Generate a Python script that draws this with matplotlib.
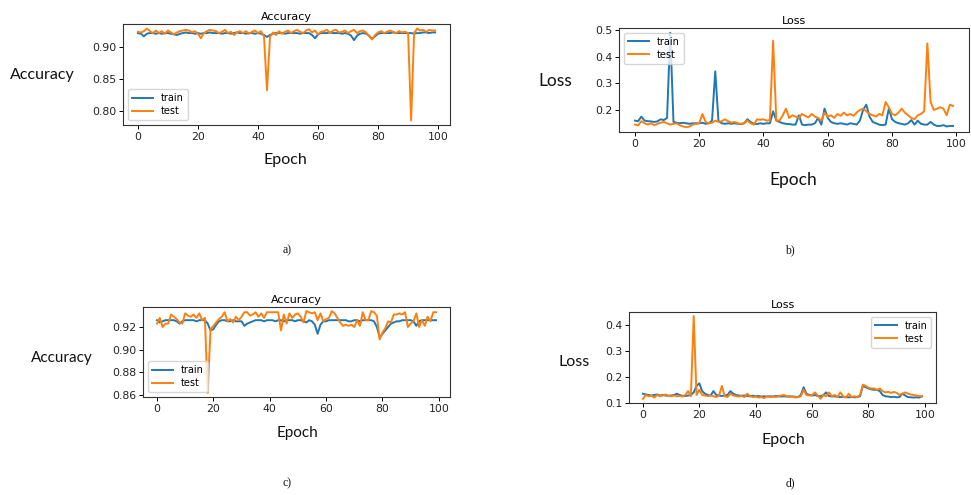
import numpy as np
import matplotlib
matplotlib.use("Agg")
import matplotlib.pyplot as plt

epochs = np.arange(100)

# a) accuracy, first run
acc_train_a = [0.921, 0.920, 0.916, 0.920, 0.921, 0.921, 0.920, 0.921, 0.920, 0.921,
               0.921, 0.920, 0.919, 0.918, 0.920, 0.921, 0.922, 0.921, 0.921, 0.920,
               0.921, 0.920, 0.921, 0.921, 0.922, 0.921, 0.921, 0.921, 0.920, 0.921,
               0.921, 0.920, 0.921, 0.922, 0.921, 0.921, 0.920, 0.921, 0.921, 0.920,
               0.921, 0.920, 0.918, 0.915, 0.918, 0.920, 0.921, 0.921, 0.921, 0.920,
               0.921, 0.921, 0.921, 0.921, 0.920, 0.921, 0.921, 0.921, 0.918, 0.913,
               0.919, 0.921, 0.921, 0.921, 0.922, 0.921, 0.921, 0.921, 0.920, 0.921,
               0.920, 0.917, 0.910, 0.917, 0.920, 0.921, 0.920, 0.917, 0.912, 0.916,
               0.920, 0.921, 0.921, 0.921, 0.921, 0.922, 0.921, 0.921, 0.921, 0.921,
               0.921, 0.921, 0.920, 0.921, 0.921, 0.922, 0.922, 0.921, 0.922, 0.922]
acc_test_a = [0.923, 0.922, 0.924, 0.928, 0.924, 0.921, 0.925, 0.921, 0.924, 0.920,
              0.925, 0.922, 0.919, 0.922, 0.924, 0.925, 0.926, 0.925, 0.922, 0.924,
              0.920, 0.913, 0.921, 0.924, 0.926, 0.925, 0.924, 0.921, 0.923, 0.926,
              0.921, 0.923, 0.918, 0.922, 0.924, 0.921, 0.924, 0.920, 0.923, 0.925,
              0.921, 0.924, 0.916, 0.832, 0.915, 0.922, 0.918, 0.924, 0.920, 0.923,
              0.925, 0.921, 0.924, 0.926, 0.923, 0.921, 0.925, 0.927, 0.922, 0.925,
              0.919, 0.923, 0.924, 0.926, 0.921, 0.925, 0.926, 0.922, 0.923, 0.925,
              0.921, 0.924, 0.926, 0.921, 0.924, 0.925, 0.922, 0.916, 0.911, 0.918,
              0.922, 0.924, 0.921, 0.923, 0.925, 0.923, 0.921, 0.924, 0.922, 0.923,
              0.921, 0.785, 0.921, 0.928, 0.925, 0.926, 0.923, 0.926, 0.925, 0.925]

# b) loss, first run
loss_train_b = [0.160, 0.158, 0.175, 0.160, 0.158, 0.157, 0.155, 0.157, 0.165, 0.162,
                0.170, 0.490, 0.155, 0.152, 0.150, 0.152, 0.150, 0.148, 0.150, 0.150,
                0.150, 0.152, 0.148, 0.150, 0.160, 0.345, 0.158, 0.150, 0.148, 0.150,
                0.148, 0.150, 0.148, 0.147, 0.150, 0.165, 0.155, 0.148, 0.147, 0.150,
                0.148, 0.150, 0.150, 0.195, 0.160, 0.155, 0.150, 0.148, 0.147, 0.145,
                0.145, 0.180, 0.145, 0.143, 0.145, 0.145, 0.150, 0.170, 0.145, 0.205,
                0.170, 0.155, 0.150, 0.148, 0.150, 0.148, 0.145, 0.150, 0.148, 0.145,
                0.160, 0.200, 0.220, 0.175, 0.155, 0.150, 0.145, 0.143, 0.145, 0.205,
                0.165, 0.155, 0.150, 0.148, 0.145, 0.150, 0.162, 0.145, 0.160, 0.148,
                0.145, 0.145, 0.155, 0.145, 0.140, 0.140, 0.143, 0.138, 0.140, 0.140]
loss_test_b = [0.145, 0.142, 0.158, 0.150, 0.145, 0.150, 0.143, 0.148, 0.152, 0.155,
               0.150, 0.145, 0.148, 0.150, 0.142, 0.138, 0.135, 0.138, 0.145, 0.148,
               0.150, 0.185, 0.155, 0.150, 0.152, 0.160, 0.155, 0.158, 0.165, 0.158,
               0.152, 0.155, 0.150, 0.148, 0.150, 0.160, 0.150, 0.145, 0.165, 0.163,
               0.165, 0.160, 0.162, 0.460, 0.160, 0.160, 0.180, 0.205, 0.170, 0.180,
               0.175, 0.170, 0.185, 0.178, 0.172, 0.185, 0.175, 0.170, 0.160, 0.190,
               0.175, 0.180, 0.170, 0.185, 0.178, 0.190, 0.180, 0.185, 0.178, 0.190,
               0.200, 0.205, 0.195, 0.185, 0.180, 0.175, 0.185, 0.180, 0.230, 0.210,
               0.185, 0.180, 0.190, 0.205, 0.190, 0.180, 0.170, 0.165, 0.180, 0.185,
               0.195, 0.450, 0.230, 0.200, 0.205, 0.210, 0.205, 0.180, 0.220, 0.215]

# c) accuracy, second run
acc_train_c = [0.926, 0.924, 0.925, 0.926, 0.926, 0.926, 0.926, 0.925, 0.923, 0.925,
               0.926, 0.926, 0.926, 0.926, 0.925, 0.926, 0.926, 0.926, 0.923, 0.917,
               0.918, 0.922, 0.925, 0.926, 0.926, 0.925, 0.925, 0.926, 0.925, 0.925,
               0.925, 0.921, 0.923, 0.924, 0.925, 0.926, 0.926, 0.926, 0.925, 0.926,
               0.926, 0.926, 0.925, 0.926, 0.926, 0.925, 0.926, 0.926, 0.926, 0.925,
               0.926, 0.926, 0.925, 0.924, 0.926, 0.925, 0.922, 0.914, 0.922, 0.925,
               0.925, 0.926, 0.926, 0.926, 0.926, 0.926, 0.926, 0.926, 0.925, 0.925,
               0.926, 0.926, 0.925, 0.926, 0.926, 0.926, 0.926, 0.925, 0.920, 0.911,
               0.914, 0.917, 0.920, 0.923, 0.924, 0.925, 0.925, 0.926, 0.926, 0.926,
               0.926, 0.925, 0.921, 0.925, 0.926, 0.926, 0.926, 0.926, 0.926, 0.926]
acc_test_c = [0.923, 0.928, 0.920, 0.923, 0.923, 0.931, 0.929, 0.927, 0.924, 0.923,
              0.932, 0.930, 0.929, 0.931, 0.928, 0.932, 0.926, 0.928, 0.862, 0.918,
              0.921, 0.924, 0.927, 0.929, 0.933, 0.925, 0.927, 0.924, 0.929, 0.926,
              0.929, 0.933, 0.933, 0.930, 0.931, 0.933, 0.929, 0.932, 0.928, 0.933,
              0.933, 0.933, 0.933, 0.933, 0.917, 0.931, 0.923, 0.932, 0.928, 0.931,
              0.932, 0.929, 0.924, 0.934, 0.933, 0.932, 0.933, 0.926, 0.932, 0.925,
              0.927, 0.928, 0.934, 0.932, 0.928, 0.924, 0.921, 0.922, 0.921, 0.922,
              0.920, 0.926, 0.921, 0.933, 0.926, 0.926, 0.934, 0.933, 0.930, 0.909,
              0.915, 0.919, 0.925, 0.924, 0.931, 0.931, 0.932, 0.931, 0.933, 0.920,
              0.923, 0.925, 0.932, 0.920, 0.926, 0.921, 0.929, 0.925, 0.933, 0.933]

# d) loss, second run
loss_train_d = [0.135, 0.132, 0.130, 0.128, 0.130, 0.132, 0.128, 0.130, 0.128, 0.127,
                0.128, 0.130, 0.135, 0.130, 0.127, 0.126, 0.128, 0.130, 0.140, 0.165,
                0.175, 0.145, 0.135, 0.130, 0.128, 0.145, 0.130, 0.128, 0.126, 0.128,
                0.130, 0.145, 0.135, 0.130, 0.128, 0.127, 0.128, 0.126, 0.125, 0.127,
                0.125, 0.126, 0.124, 0.125, 0.124, 0.125, 0.124, 0.126, 0.125, 0.124,
                0.125, 0.124, 0.125, 0.124, 0.123, 0.122, 0.130, 0.160, 0.135, 0.130,
                0.128, 0.130, 0.126, 0.125, 0.130, 0.140, 0.126, 0.124, 0.125, 0.123,
                0.122, 0.123, 0.122, 0.121, 0.122, 0.121, 0.122, 0.125, 0.165, 0.160,
                0.155, 0.152, 0.150, 0.150, 0.145, 0.130, 0.125, 0.124, 0.122, 0.123,
                0.121, 0.122, 0.135, 0.128, 0.122, 0.121, 0.120, 0.121, 0.120, 0.125]
loss_test_d = [0.115, 0.130, 0.125, 0.128, 0.120, 0.130, 0.125, 0.128, 0.132, 0.127,
               0.125, 0.128, 0.125, 0.126, 0.124, 0.130, 0.145, 0.125, 0.435, 0.130,
               0.150, 0.130, 0.128, 0.126, 0.128, 0.125, 0.122, 0.128, 0.165, 0.125,
               0.122, 0.135, 0.128, 0.126, 0.124, 0.126, 0.122, 0.135, 0.125, 0.122,
               0.124, 0.120, 0.122, 0.118, 0.125, 0.122, 0.124, 0.122, 0.125, 0.128,
               0.130, 0.125, 0.122, 0.125, 0.120, 0.122, 0.125, 0.150, 0.130, 0.128,
               0.130, 0.140, 0.128, 0.115, 0.130, 0.125, 0.140, 0.125, 0.130, 0.122,
               0.140, 0.125, 0.120, 0.135, 0.122, 0.125, 0.122, 0.130, 0.170, 0.165,
               0.158, 0.155, 0.155, 0.150, 0.155, 0.145, 0.140, 0.142, 0.138, 0.142,
               0.138, 0.130, 0.135, 0.140, 0.135, 0.132, 0.130, 0.128, 0.126, 0.125]

W, H = 971, 495
fig = plt.figure(figsize=(W / 100, H / 100), dpi=100)


def rect(left, top, right, bottom):
    # pixel box -> figure fraction
    return [left / W, (H - bottom) / H, (right - left) / W, (bottom - top) / H]


def panel(box, train, test, title, legend_loc):
    ax = fig.add_axes(rect(*box))
    ax.plot(epochs, train, color="#1f77b4", lw=1.4, label="train")
    ax.plot(epochs, test, color="#ff7f0e", lw=1.4, label="test")
    ax.set_title(title, fontsize=8, pad=3)
    ax.tick_params(labelsize=7.8, length=3, width=0.7, pad=2, labelcolor="#222222")
    ax.set_xticks([0, 20, 40, 60, 80, 100])
    for s in ax.spines.values():
        s.set_linewidth(0.8)
        s.set_color("#333333")
    ax.legend(loc=legend_loc, fontsize=7, handlelength=2.2, borderpad=0.4,
              labelspacing=0.3)
    return ax


def label(x, y, s, size, family="Lato"):
    fig.text(x / W, 1 - y / H, s, ha="center", va="center", fontsize=size,
             family=family, color="#111111")


panel((123, 24, 450, 125), acc_train_a, acc_test_a, "Accuracy", "lower left")
panel((619, 28, 969, 132), loss_train_b, loss_test_b, "Loss", "upper left")
panel((143, 307, 450, 397), acc_train_c, acc_test_c, "Accuracy", "lower left")
panel((629, 312, 936, 403), loss_train_d, loss_test_d, "Loss", "upper right")

label(42, 75, "Accuracy", 11.5)
label(285, 160, "Epoch", 11.5)
label(555, 81, "Loss", 12.5)
label(793, 180, "Epoch", 12.5)
label(62, 358, "Accuracy", 11)
label(297, 433, "Epoch", 11)
label(574, 362, "Loss", 11.5)
label(783, 440, "Epoch", 11.5)

label(287, 250, "a)", 8.5, "Liberation Serif")
label(790, 250, "b)", 8.5, "Liberation Serif")
label(287, 483, "c)", 8.5, "Liberation Serif")
label(790, 483, "d)", 8.5, "Liberation Serif")

fig.savefig("out.png", dpi=100)
